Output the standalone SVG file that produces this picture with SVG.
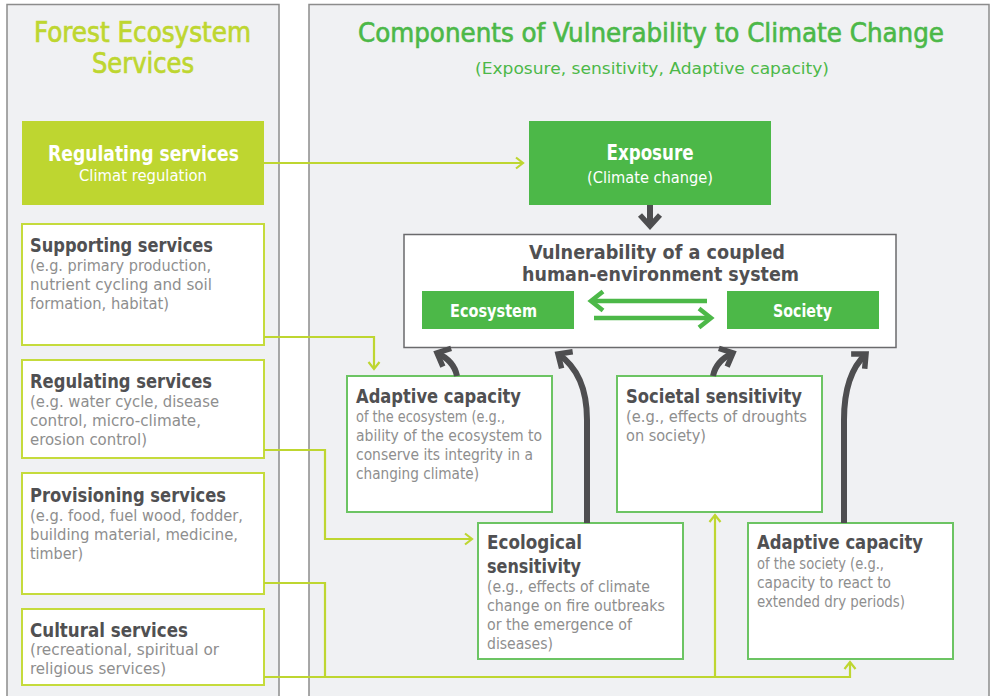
<svg xmlns="http://www.w3.org/2000/svg" width="993" height="696" viewBox="0 0 993 696">
  <style>
    text { font-family: "DejaVu Sans Condensed", "DejaVu Sans", "Liberation Sans", sans-serif; font-stretch: condensed; }
    .panel { fill: #F0F1F3; stroke: #8C8C8C; stroke-width: 1.5; }
    .ptitle-y { fill: #BED630; stroke: #BED630; stroke-width: 0.7; font-size: 28px; }
    .ptitle-g { fill: #4CB848; stroke: #4CB848; stroke-width: 0.6; font-size: 26px; }
    .psub { fill: #4CB848; font-size: 16.5px; }
    .svc { fill: #FFFFFF; stroke: #C5DB3C; stroke-width: 2; }
    .comp { fill: #FFFFFF; stroke: #6CC463; stroke-width: 2; }
    .fill-y { fill: #BED630; }
    .fill-g { fill: #4CB848; }
    .head { fill: #505052; font-size: 19.5px; font-weight: bold; }
    .body { fill: #8E8E8E; font-size: 16px; }
    .wh-b { fill: #FFFFFF; font-weight: bold; }
    .wh { fill: #FFFFFF; font-size: 16px; }
    .c { text-anchor: middle; }
    .yl { fill: none; stroke: #BED630; stroke-width: 2.2; }
    .gr { fill: none; stroke: #4E4E50; stroke-width: 6; }
    .gn { fill: none; stroke: #4CB848; stroke-width: 4.5; }
  </style>
  <defs>
    <marker id="ah-y" markerUnits="userSpaceOnUse" viewBox="-10 -8 12 16" markerWidth="12" markerHeight="16" refX="0" refY="0" orient="auto" overflow="visible">
      <path d="M-7,-5.5 L0,0 L-7,5.5" fill="none" stroke="#BED630" stroke-width="2.2"/>
    </marker>
    <marker id="ah-g" markerUnits="userSpaceOnUse" viewBox="-16 -12 18 24" markerWidth="18" markerHeight="24" refX="0" refY="0" orient="auto" overflow="visible">
      <path d="M-12,-9.5 L0,0 L-12,9.5" fill="none" stroke="#4CB848" stroke-width="4.5"/>
    </marker>
    <marker id="ah-d" markerUnits="userSpaceOnUse" viewBox="-16 -14 18 28" markerWidth="18" markerHeight="28" refX="0" refY="0" orient="auto" overflow="visible">
      <path d="M-11,-10 L0,0 L-11,10" fill="none" stroke="#4E4E50" stroke-width="5.5"/>
    </marker>
  </defs>

  <rect width="993" height="696" fill="#FFFFFF"/>

  <!-- panels -->
  <g id="panel-services">
    <rect class="panel" x="7" y="4.5" width="272" height="700"/>
    <text class="ptitle-y c" x="142.5" y="42" textLength="217" lengthAdjust="spacingAndGlyphs">Forest Ecosystem</text>
    <text class="ptitle-y c" x="143" y="73" textLength="102" lengthAdjust="spacingAndGlyphs">Services</text>
  </g>
  <g id="panel-vulnerability">
    <rect class="panel" x="309" y="4.5" width="680" height="700"/>
    <text class="ptitle-g c" x="651" y="42" textLength="586" lengthAdjust="spacingAndGlyphs">Components of Vulnerability to Climate Change</text>
    <text class="psub c" x="652" y="74" textLength="354" lengthAdjust="spacingAndGlyphs">(Exposure, sensitivity, Adaptive capacity)</text>
  </g>

  <!-- services -->
  <g id="regulating-climate">
    <rect class="fill-y" x="22" y="121" width="242" height="84"/>
    <text class="wh-b c" x="143.5" y="161" font-size="21" textLength="191" lengthAdjust="spacingAndGlyphs">Regulating services</text>
    <text class="wh c" x="143" y="181" textLength="128" lengthAdjust="spacingAndGlyphs">Climat regulation</text>
  </g>
  <g id="supporting">
    <rect class="svc" x="22" y="224" width="242" height="121"/>
    <text class="head" x="30" y="252" textLength="183" lengthAdjust="spacingAndGlyphs">Supporting services</text>
    <text class="body" x="30" y="271" textLength="181" lengthAdjust="spacingAndGlyphs">(e.g. primary production,</text>
    <text class="body" x="30" y="290" textLength="182" lengthAdjust="spacingAndGlyphs">nutrient cycling and soil</text>
    <text class="body" x="30" y="309" textLength="139" lengthAdjust="spacingAndGlyphs">formation, habitat)</text>
  </g>
  <g id="regulating">
    <rect class="svc" x="22" y="360" width="242" height="98"/>
    <text class="head" x="30" y="388" textLength="182" lengthAdjust="spacingAndGlyphs">Regulating services</text>
    <text class="body" x="30" y="407" textLength="189" lengthAdjust="spacingAndGlyphs">(e.g. water cycle, disease</text>
    <text class="body" x="30" y="426" textLength="171" lengthAdjust="spacingAndGlyphs">control, micro-climate,</text>
    <text class="body" x="30" y="445" textLength="117" lengthAdjust="spacingAndGlyphs">erosion control)</text>
  </g>
  <g id="provisioning">
    <rect class="svc" x="22" y="473" width="242" height="121"/>
    <text class="head" x="30" y="502" textLength="196" lengthAdjust="spacingAndGlyphs">Provisioning services</text>
    <text class="body" x="30" y="521" textLength="213" lengthAdjust="spacingAndGlyphs">(e.g. food, fuel wood, fodder,</text>
    <text class="body" x="30" y="540" textLength="208" lengthAdjust="spacingAndGlyphs">building material, medicine,</text>
    <text class="body" x="30" y="559" textLength="53" lengthAdjust="spacingAndGlyphs">timber)</text>
  </g>
  <g id="cultural">
    <rect class="svc" x="22" y="609" width="242" height="76"/>
    <text class="head" x="30" y="637" textLength="158" lengthAdjust="spacingAndGlyphs">Cultural services</text>
    <text class="body" x="30" y="655" textLength="189" lengthAdjust="spacingAndGlyphs">(recreational, spiritual or</text>
    <text class="body" x="30" y="674" textLength="136" lengthAdjust="spacingAndGlyphs">religious services)</text>
  </g>

  <!-- vulnerability components -->
  <g id="exposure">
    <rect class="fill-g" x="529" y="121" width="242" height="84"/>
    <text class="wh-b c" x="650" y="160" font-size="21" textLength="87" lengthAdjust="spacingAndGlyphs">Exposure</text>
    <text class="wh c" x="650" y="183" textLength="126" lengthAdjust="spacingAndGlyphs">(Climate change)</text>
  </g>
  <g id="vulnerability">
    <rect x="404" y="234.5" width="492" height="113" fill="#FFFFFF" stroke="#6A6A6C" stroke-width="1.5"/>
    <text class="head c" x="657" y="259" font-size="21" textLength="256" lengthAdjust="spacingAndGlyphs">Vulnerability of a coupled</text>
    <text class="head c" x="660.5" y="280.5" font-size="21" textLength="277" lengthAdjust="spacingAndGlyphs">human-environment system</text>
  </g>
  <g id="ecosystem">
    <rect class="fill-g" x="422" y="291" width="152" height="38"/>
    <text class="wh-b c" x="493.5" y="317" font-size="18" textLength="87" lengthAdjust="spacingAndGlyphs">Ecosystem</text>
  </g>
  <g id="society">
    <rect class="fill-g" x="727" y="291" width="152" height="38"/>
    <text class="wh-b c" x="802.5" y="317" font-size="18" textLength="59" lengthAdjust="spacingAndGlyphs">Society</text>
  </g>
  <g id="adaptive-ecosystem">
    <rect class="comp" x="347" y="376" width="205" height="136"/>
    <text class="head" x="356" y="403" textLength="165" lengthAdjust="spacingAndGlyphs">Adaptive capacity</text>
    <text class="body" x="356" y="422" textLength="149" lengthAdjust="spacingAndGlyphs">of the ecosystem (e.g.,</text>
    <text class="body" x="356" y="441" textLength="186" lengthAdjust="spacingAndGlyphs">ability of the ecosystem to</text>
    <text class="body" x="356" y="460" textLength="177" lengthAdjust="spacingAndGlyphs">conserve its integrity in a</text>
    <text class="body" x="356" y="479" textLength="123" lengthAdjust="spacingAndGlyphs">changing climate)</text>
  </g>
  <g id="societal-sensitivity">
    <rect class="comp" x="617" y="376" width="205" height="136"/>
    <text class="head" x="626" y="403" textLength="176" lengthAdjust="spacingAndGlyphs">Societal sensitivity</text>
    <text class="body" x="626" y="422" textLength="181" lengthAdjust="spacingAndGlyphs">(e.g., effects of droughts</text>
    <text class="body" x="626" y="441" textLength="80" lengthAdjust="spacingAndGlyphs">on society)</text>
  </g>
  <g id="ecological-sensitivity">
    <rect class="comp" x="478" y="523" width="205" height="136"/>
    <text class="head" x="487" y="549" textLength="95" lengthAdjust="spacingAndGlyphs">Ecological</text>
    <text class="head" x="487" y="573" textLength="94" lengthAdjust="spacingAndGlyphs">sensitivity</text>
    <text class="body" x="487" y="592" textLength="163" lengthAdjust="spacingAndGlyphs">(e.g., effects of climate</text>
    <text class="body" x="487" y="611" textLength="178" lengthAdjust="spacingAndGlyphs">change on fire outbreaks</text>
    <text class="body" x="487" y="630" textLength="145" lengthAdjust="spacingAndGlyphs">or the emergence of</text>
    <text class="body" x="487" y="649" textLength="66" lengthAdjust="spacingAndGlyphs">diseases)</text>
  </g>
  <g id="adaptive-society">
    <rect class="comp" x="748" y="523" width="205" height="136"/>
    <text class="head" x="757" y="549" textLength="166" lengthAdjust="spacingAndGlyphs">Adaptive capacity</text>
    <text class="body" x="757" y="569" textLength="127" lengthAdjust="spacingAndGlyphs">of the society (e.g.,</text>
    <text class="body" x="757" y="588" textLength="134" lengthAdjust="spacingAndGlyphs">capacity to react to</text>
    <text class="body" x="757" y="607" textLength="148" lengthAdjust="spacingAndGlyphs">extended dry periods)</text>
  </g>

  <!-- connectors, drawn last so they sit above the boxes -->
  <g id="connectors">
    <path class="yl" d="M264,163 H523" marker-end="url(#ah-y)"/>
    <path class="yl" d="M264,337 H374 V369" marker-end="url(#ah-y)"/>
    <path class="yl" d="M264,450 H325 V539 H472" marker-end="url(#ah-y)"/>
    <path class="yl" d="M264,583 H325 V677"/>
    <path class="yl" d="M264,677 H850 V662" marker-end="url(#ah-y)"/>
    <path class="yl" d="M715,677 V515" marker-end="url(#ah-y)"/>
    <path class="gr" d="M650,205 V226" marker-end="url(#ah-d)"/>
    <path class="gn" d="M707,301 H591" marker-end="url(#ah-g)"/>
    <path class="gn" d="M594,318 H711" marker-end="url(#ah-g)"/>
    <path class="gr" d="M457,376 C455,366 448,358 437,353" marker-end="url(#ah-d)"/>
    <path class="gr" d="M587,523 V420 C587,388 576,366 558,354" marker-end="url(#ah-d)"/>
    <path class="gr" d="M713,376 C715,366 722,358 733,353" marker-end="url(#ah-d)"/>
    <path class="gr" d="M844,523 V420 C844,388 853,366 866,354" marker-end="url(#ah-d)"/>
  </g>
</svg>
